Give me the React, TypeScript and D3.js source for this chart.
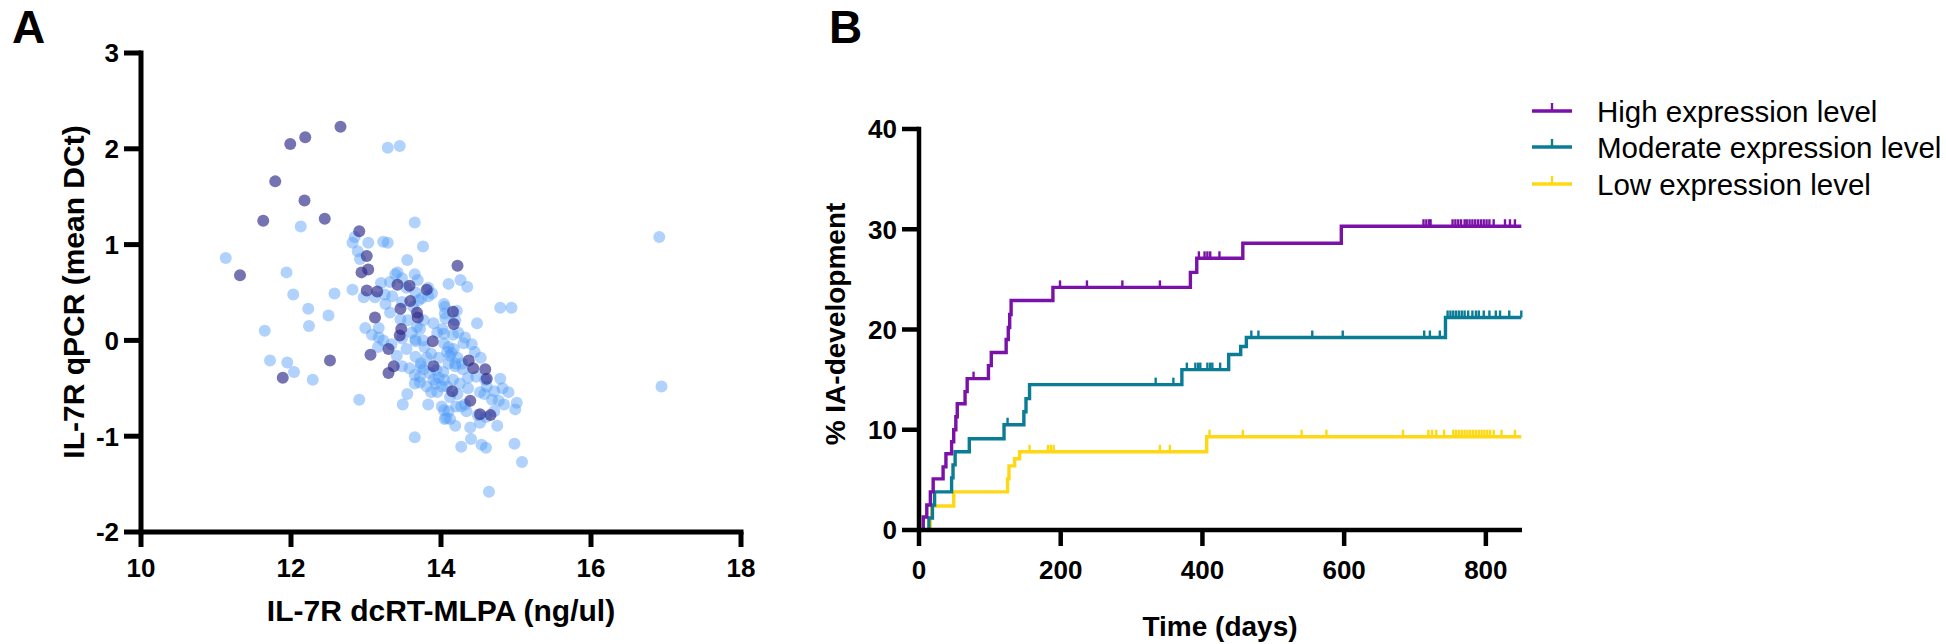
import React, { useEffect, useRef } from "react";
import * as d3 from "d3";

// ---------- Panel A data: [dcRT-MLPA, qPCR] ----------
const lightPoints: [number, number][] = [
  [11.13, 0.86], [12.13, 1.19], [13.29, 2.01], [13.45, 2.03], [13.65, 1.23], [13.76, 0.98],
  [16.91, 1.08], [16.94, -0.48], [11.94, 0.71], [12.03, 0.48], [12.23, 0.33], [12.24, 0.15],
  [12.5, 0.26], [12.58, 0.49], [11.65, 0.1], [11.72, -0.21], [11.95, -0.23], [12.04, -0.33],
  [12.29, -0.41], [12.91, -0.62], [12.82, 1.02], [12.85, 1.08], [12.89, 0.93], [12.92, 0.85],
  [13.03, 1.02], [13.23, 1.03], [13.29, 1.02], [12.82, 0.53], [12.97, 0.45], [13.12, 0.45],
  [13.2, 0.6], [13.32, 0.61], [13.39, 0.69], [13.55, 0.84], [13.65, 0.69], [13.69, 0.63],
  [13.83, 0.46], [13.83, 0.55], [14.1, 0.59], [14.26, 0.63], [14.35, 0.56], [14.04, 0.38],
  [14.05, 0.35], [14.21, 0.31], [14.06, 0.23], [14.02, 0.12], [14.48, 0.18], [14.79, 0.34],
  [14.94, 0.34], [12.99, 0.13], [13.08, 0.06], [13.17, 0.03], [13.32, 0.29], [13.34, -0.04],
  [13.46, 0.22], [13.56, 0.21], [13.61, 0.08], [13.66, 0.01], [13.54, -0.09], [13.66, -0.01],
  [13.72, 0.12], [13.78, -0.07], [13.87, -0.14], [13.97, -0.18], [14.04, -0.03], [14.08, -0.12],
  [14.12, -0.16], [14.17, -0.09], [14.22, -0.18], [14.3, -0.03], [14.41, -0.04], [14.45, -0.12],
  [14.53, -0.18], [14.29, -0.3], [14.36, -0.39], [14.47, -0.38], [13.48, -0.27], [13.58, -0.29],
  [13.65, -0.36], [13.72, -0.44], [13.77, -0.3], [13.81, -0.48], [13.87, -0.54], [13.95, -0.54],
  [13.97, -0.39], [14.03, -0.33], [14.08, -0.48], [14.16, -0.41], [14.22, -0.56], [14.32, -0.67],
  [14.36, -0.5], [14.52, -0.54], [14.58, -0.56], [14.68, -0.62], [14.79, -0.4], [14.82, -0.5],
  [14.9, -0.54], [14.77, -0.63], [14.84, -0.67], [15.01, -0.65], [14.99, -0.72], [14.01, -0.69],
  [14.1, -0.74], [14.05, -0.82], [14.19, -0.89], [14.27, -0.69], [14.34, -0.74], [14.39, -0.91],
  [14.52, -0.86], [14.75, -0.89], [14.4, -1.03], [14.54, -1.09], [14.27, -1.11], [14.6, -1.12],
  [14.98, -1.08], [15.08, -1.27], [14.64, -1.58], [13.65, -1.01], [13.49, -0.67], [13.55, -0.56],
  [13.83, -0.67], [14.04, -0.41], [13.94, -0.31], [13.66, -0.17], [13.41, -0.16], [13.17, 0.13],
  [13.42, 0.71], [13.48, 0.65], [13.54, 0.55], [13.66, 0.5], [13.74, 0.44], [13.35, 0.46],
  [13.26, 0.38], [13.48, 0.4], [13.77, 0.21], [13.9, 0.18], [13.95, 0.08], [14.16, 0.06],
  [14.23, 0.08], [14.32, 0.03], [14.19, -0.24], [14.1, -0.24], [13.73, -0.24], [13.81, -0.18],
  [14.61, -0.48], [14.71, -0.53], [14.2, -0.69], [14.12, -0.82], [14.49, -0.78], [14.6, -0.8],
  [14.71, -0.74], [13.25, 0.48], [13.16, -0.07], [13.23, 0.0], [13.73, -0.27], [14.05, 0.28],
  [14.19, 0.21], [14.04, 0.07], [14.1, -0.07], [14.14, -0.13], [14.28, -0.24], [14.19, -0.27],
  [13.85, -0.34], [13.93, -0.45], [13.65, -0.45], [13.48, 0.02], [13.68, 0.14], [13.76, 0.0],
  [13.63, 0.35], [13.7, 0.42], [13.88, 0.49], [14.04, -0.73], [14.07, -0.81], [14.25, -0.45],
  [14.01, -0.48], [13.9, -0.41], [13.72, -0.38], [14.12, -0.59], [14.59, -0.41],
];

const darkPoints: [number, number][] = [
  [12.66, 2.23], [12.19, 2.12], [11.99, 2.05], [11.79, 1.66], [12.18, 1.46], [11.63, 1.25],
  [12.45, 1.27], [12.91, 1.14], [13.01, 0.88], [11.32, 0.68], [12.94, 0.71], [13.03, 0.74],
  [14.22, 0.78], [13.01, 0.52], [13.15, 0.51], [13.42, 0.58], [13.58, 0.57], [13.81, 0.53],
  [13.59, 0.41], [13.46, 0.33], [13.68, 0.29], [13.69, 0.24], [13.12, 0.24], [14.16, 0.3],
  [14.17, 0.17], [13.47, 0.12], [13.45, 0.05], [13.89, -0.01], [13.3, -0.09], [13.06, -0.15],
  [12.52, -0.21], [14.37, -0.21], [13.37, -0.27], [13.9, -0.27], [14.43, -0.29], [14.59, -0.3],
  [13.3, -0.34], [14.61, -0.4], [11.89, -0.39], [14.15, -0.53], [14.39, -0.63], [14.52, -0.77],
  [14.66, -0.78],
];

const xTicksA = [10, 12, 14, 16, 18];
const yTicksA = [-2, -1, 0, 1, 2, 3];

// ---------- Panel B data ----------
const seriesNames = ["High expression level", "Moderate expression level", "Low expression level"];
const seriesColors = ["#7a12a8", "#0b7c95", "#ffd814"];

const highTimes = [0, 6, 11, 16, 20, 34, 38, 46, 49, 52, 54, 65, 68, 98, 102, 123, 126, 128, 130, 189, 383, 392, 457, 596];
const highPct = [0, 1.3, 2.5, 3.8, 5.1, 6.3, 7.6, 8.8, 10.0, 11.3, 12.6, 13.8, 15.1, 16.4, 17.7, 19.0, 20.2, 21.5, 22.9, 24.2, 25.7, 27.1, 28.6, 30.3];
const highCensor = [77, 199, 237, 287, 340, 395, 403, 407, 411, 424, 712, 716, 720, 722, 753, 757, 761, 765, 770, 773, 777, 781, 785, 789, 793, 797, 801, 805, 811, 827, 834, 841];

const modTimes = [0, 14, 19, 22, 46, 48, 51, 71, 120, 148, 151, 156, 371, 437, 454, 462, 743];
const modPct = [0, 1.2, 2.5, 3.8, 5.2, 6.5, 7.8, 9.1, 10.5, 11.8, 13.1, 14.5, 16.0, 17.5, 18.3, 19.2, 21.2];
const modCensor = [125, 334, 359, 378, 390, 394, 397, 407, 411, 414, 425, 469, 479, 555, 598, 713, 721, 735, 746, 750, 754, 758, 762, 766, 770, 775, 781, 786, 790, 797, 805, 814, 820, 833, 850];

const lowTimes = [0, 16, 18, 49, 125, 127, 135, 142, 406];
const lowPct = [0, 1.2, 2.4, 3.8, 5.1, 6.4, 7.1, 7.8, 9.3];
const lowCensor = [156, 182, 186, 190, 340, 354, 410, 457, 540, 575, 683, 719, 724, 730, 741, 754, 758, 762, 766, 770, 774, 778, 782, 786, 790, 794, 798, 802, 806, 811, 822, 841];

const xTicksB = [0, 200, 400, 600, 800];
const yTicksB = [0, 10, 20, 30, 40];
const followUpEnd = 850;

const FONT = "'Liberation Sans', Arial, sans-serif";

export default function App() {
  const ref = useRef<SVGSVGElement>(null);

  useEffect(() => {
    const svg = d3.select(ref.current);
    svg.selectAll("*").remove();

    // ================= Panel A =================
    const xA = d3.scaleLinear().domain([10, 18]).range([141, 741]);
    const yA = d3.scaleLinear().domain([-2, 3]).range([532, 53]);
    const gA = svg.append("g");

    gA.append("g").selectAll("circle").data(lightPoints).join("circle")
      .attr("cx", (d) => xA(d[0])).attr("cy", (d) => yA(d[1])).attr("r", 6)
      .attr("fill", "#4f9cf9").attr("fill-opacity", 0.45);
    gA.append("g").selectAll("circle").data(darkPoints).join("circle")
      .attr("cx", (d) => xA(d[0])).attr("cy", (d) => yA(d[1])).attr("r", 6)
      .attr("fill", "#2b2889").attr("fill-opacity", 0.65);

    const axA = gA.append("g").attr("stroke", "#000").attr("stroke-width", 5).attr("fill", "none");
    axA.append("line").attr("x1", xA(10)).attr("x2", xA(18)).attr("y1", yA(-2)).attr("y2", yA(-2)).attr("stroke-linecap", "square");
    axA.append("line").attr("x1", xA(10)).attr("x2", xA(10)).attr("y1", yA(-2)).attr("y2", yA(3)).attr("stroke-linecap", "square");
    xTicksA.forEach((t) => axA.append("line").attr("x1", xA(t)).attr("x2", xA(t)).attr("y1", yA(-2)).attr("y2", yA(-2) + 15));
    yTicksA.forEach((t) => axA.append("line").attr("x1", xA(10) - 17).attr("x2", xA(10)).attr("y1", yA(t)).attr("y2", yA(t)));

    const tA = gA.append("g").attr("font-family", FONT).attr("font-weight", "bold").attr("fill", "#000");
    xTicksA.forEach((t) => tA.append("text").attr("x", xA(t)).attr("y", 577).attr("text-anchor", "middle").attr("font-size", 26).text(String(t)));
    yTicksA.forEach((t) => tA.append("text").attr("x", 119).attr("y", yA(t)).attr("dy", "0.36em").attr("text-anchor", "end").attr("font-size", 26).text(String(t)));
    tA.append("text").attr("x", 441).attr("y", 621).attr("text-anchor", "middle").attr("font-size", 30).text("IL-7R dcRT-MLPA (ng/ul)");
    tA.append("text").attr("transform", `translate(84,292) rotate(-90)`).attr("text-anchor", "middle").attr("font-size", 30).text("IL-7R qPCR (mean DCt)");
    tA.append("text").attr("x", 12).attr("y", 43).attr("font-size", 46).text("A");

    // ================= Panel B =================
    const xB = d3.scaleLinear().domain([0, 851]).range([919, 1522]);
    const yB = d3.scaleLinear().domain([0, 40]).range([530, 129]);
    const gB = svg.append("g");

    const series = [
      { times: highTimes, pct: highPct, censor: highCensor },
      { times: modTimes, pct: modPct, censor: modCensor },
      { times: lowTimes, pct: lowPct, censor: lowCensor },
    ];
    const line = d3.line<[number, number]>().x((d) => xB(d[0])).y((d) => yB(d[1])).curve(d3.curveStepAfter);

    [2, 1, 0].forEach((i) => {
      const s = series[i];
      const pts: [number, number][] = s.times.map((t, k) => [t, s.pct[k]]);
      pts.push([followUpEnd, s.pct[s.pct.length - 1]]);
      gB.append("path").attr("d", line(pts)).attr("fill", "none").attr("stroke", seriesColors[i]).attr("stroke-width", 3.4);
      const bis = d3.bisector((t: number) => t).right;
      s.censor.forEach((c) => {
        const idx = Math.max(0, bis(s.times, c) - 1);
        const v = s.pct[idx];
        gB.append("line").attr("x1", xB(c)).attr("x2", xB(c)).attr("y1", yB(v)).attr("y2", yB(v) - 7)
          .attr("stroke", seriesColors[i]).attr("stroke-width", 2.4);
      });
    });

    const axB = gB.append("g").attr("stroke", "#000").attr("stroke-width", 4.5).attr("fill", "none");
    axB.append("line").attr("x1", xB(0)).attr("x2", xB(851)).attr("y1", yB(0)).attr("y2", yB(0));
    axB.append("line").attr("x1", xB(0)).attr("x2", xB(0)).attr("y1", yB(0)).attr("y2", yB(40)).attr("stroke-linecap", "square");
    xTicksB.forEach((t) => axB.append("line").attr("x1", xB(t)).attr("x2", xB(t)).attr("y1", yB(0)).attr("y2", yB(0) + 16));
    yTicksB.forEach((t) => axB.append("line").attr("x1", xB(0) - 17).attr("x2", xB(0)).attr("y1", yB(t)).attr("y2", yB(t)));

    const tB = gB.append("g").attr("font-family", FONT).attr("font-weight", "bold").attr("fill", "#000");
    xTicksB.forEach((t) => tB.append("text").attr("x", xB(t)).attr("y", 579).attr("text-anchor", "middle").attr("font-size", 26).text(String(t)));
    yTicksB.forEach((t) => tB.append("text").attr("x", 897).attr("y", yB(t)).attr("dy", "0.36em").attr("text-anchor", "end").attr("font-size", 26).text(String(t)));
    tB.append("text").attr("x", 1220).attr("y", 636).attr("text-anchor", "middle").attr("font-size", 28).text("Time (days)");
    tB.append("text").attr("transform", `translate(845,324) rotate(-90)`).attr("text-anchor", "middle").attr("font-size", 28).text("% IA-development");
    tB.append("text").attr("x", 829).attr("y", 43).attr("font-size", 46).text("B");

    // legend
    const legY = [111, 147, 184];
    seriesNames.forEach((name, i) => {
      const g = gB.append("g");
      g.append("line").attr("x1", 1532).attr("x2", 1572).attr("y1", legY[i]).attr("y2", legY[i]).attr("stroke", seriesColors[i]).attr("stroke-width", 3.4);
      g.append("line").attr("x1", 1552).attr("x2", 1552).attr("y1", legY[i]).attr("y2", legY[i] - 8).attr("stroke", seriesColors[i]).attr("stroke-width", 2.4);
      g.append("text").attr("x", 1597).attr("y", legY[i]).attr("dy", "0.36em").attr("font-family", FONT).attr("font-size", 29.5).attr("fill", "#000").text(name);
    });
  }, []);

  return (
    <svg ref={ref} width={1946} height={644} style={{ position: "absolute", left: 0, top: 0, background: "#fff" }} />
  );
}
